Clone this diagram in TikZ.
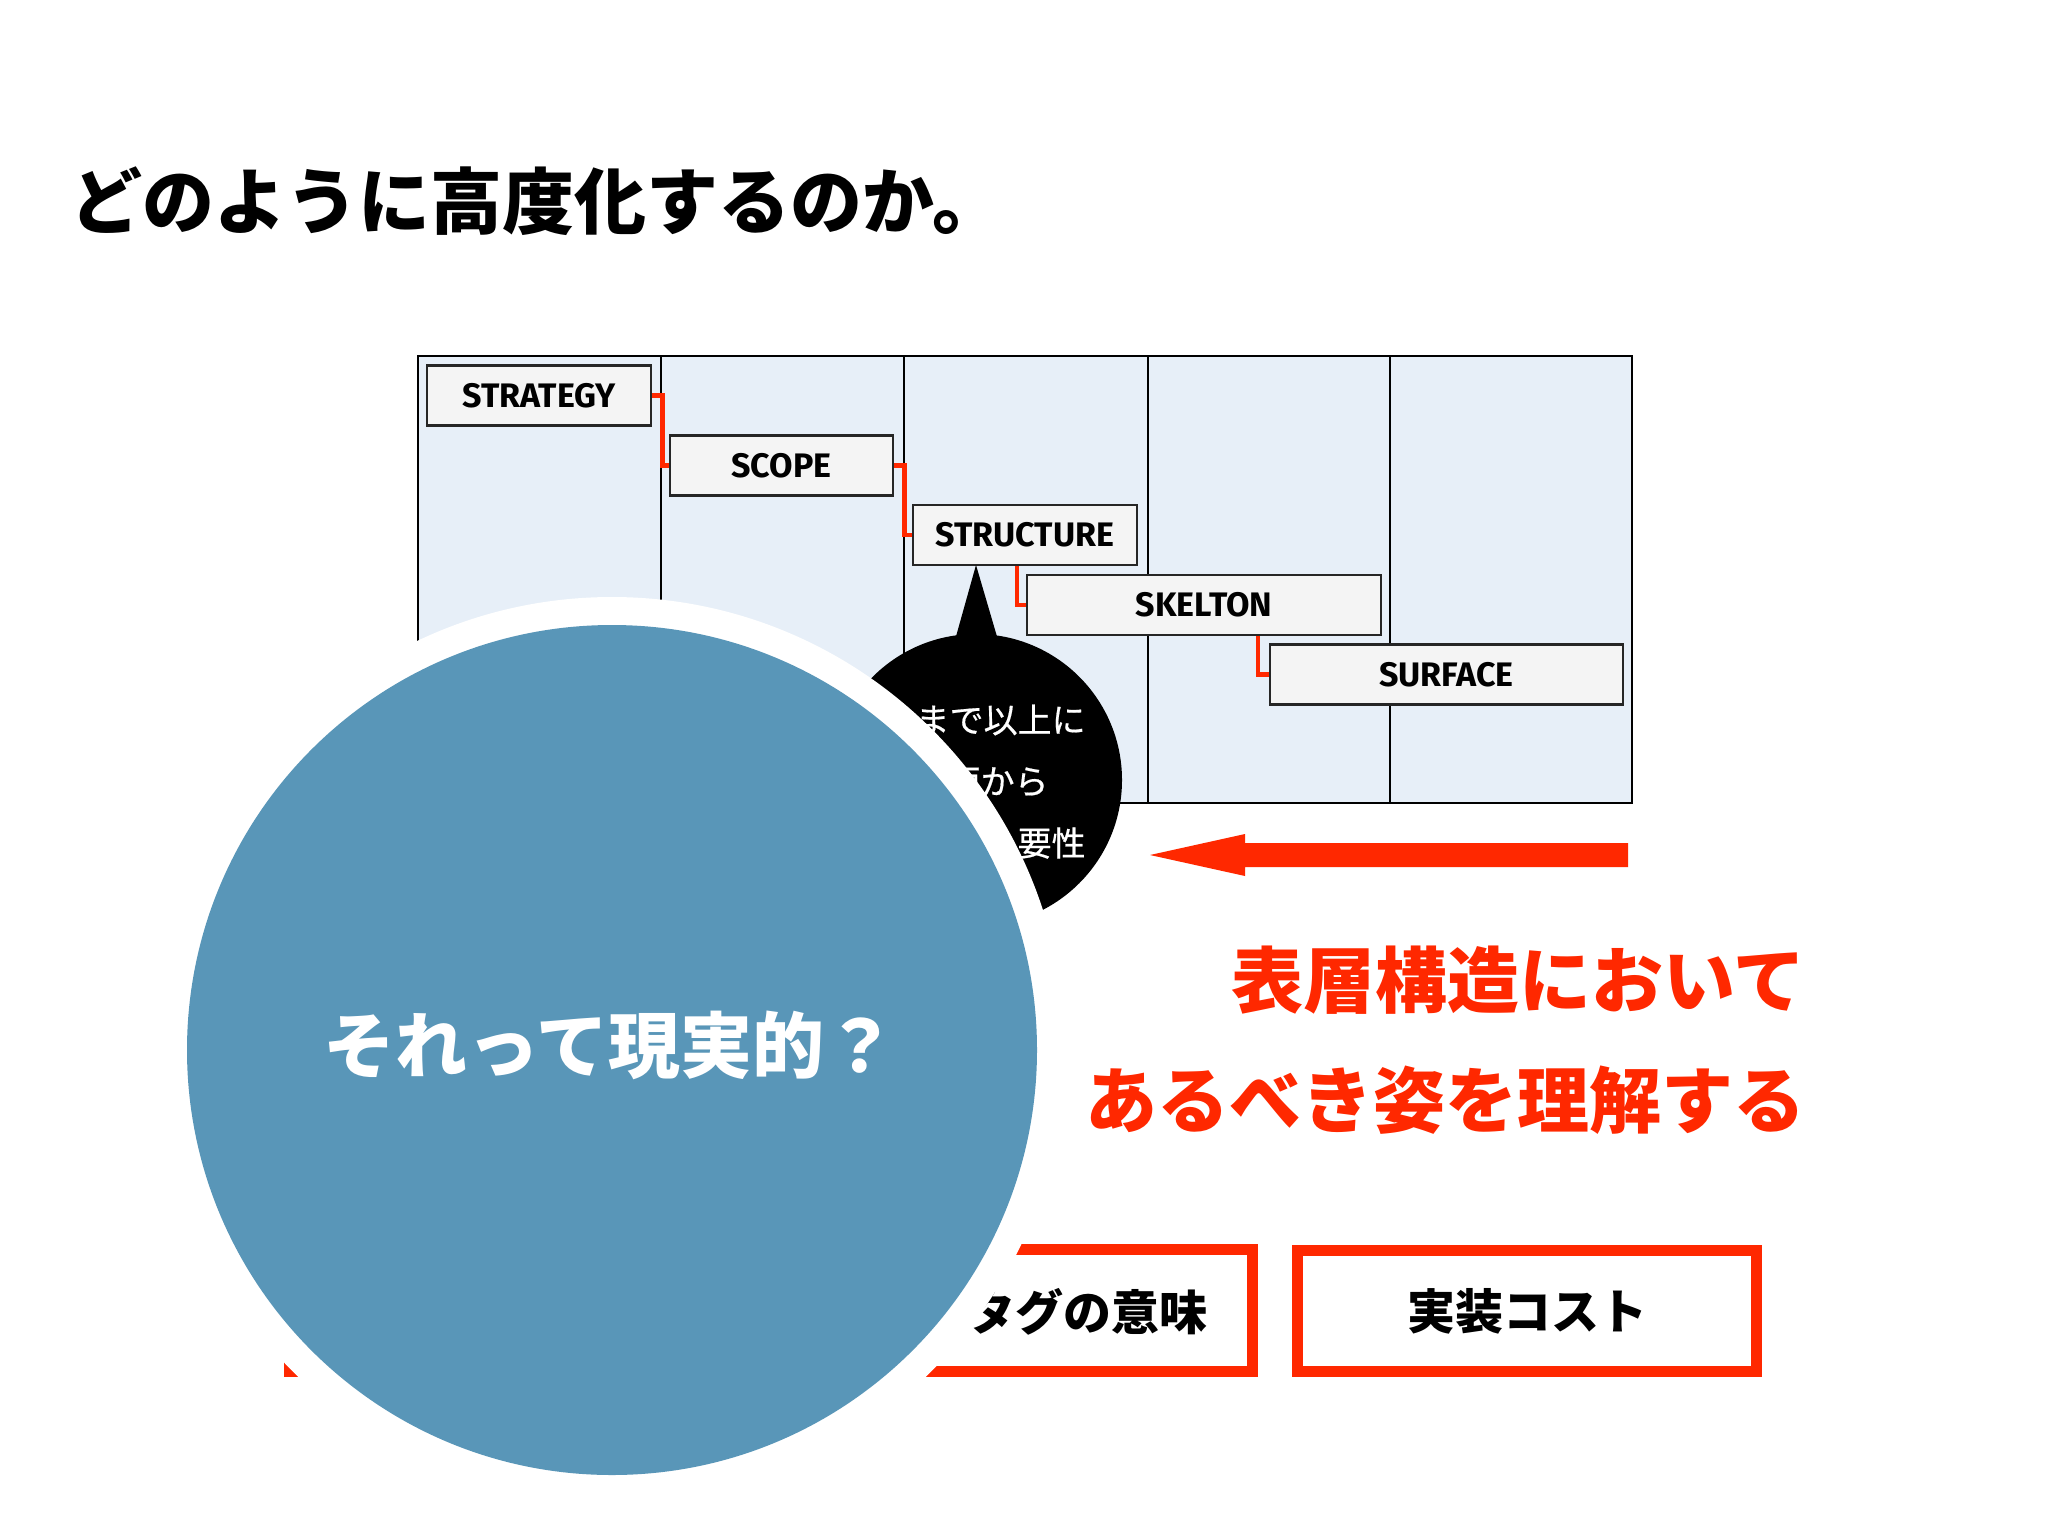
\documentclass[tikz,border=0pt]{standalone}
\usepackage{fontspec}
\newfontfamily\jp{Noto Sans CJK JP}
\newfontfamily\jpmed{Noto Sans CJK JP}[FakeBold=0.5]
\newfontfamily\din{Fira Sans}
\usetikzlibrary{calc}
\definecolor{panelblue}{RGB}{231,239,248}
\definecolor{boxgray}{RGB}{244,244,244}
\definecolor{accentred}{RGB}{255,40,0}
\definecolor{qblue}{RGB}{89,150,184}
\begin{document}
\begin{tikzpicture}[x=0.5pt,y=-0.5pt,
  layerbox/.style={draw=black!85,line width=1.2pt,fill=boxgray,inner sep=0pt,
    minimum height=30pt,font=\din\bfseries\fontsize{17}{20}\selectfont},
  conn/.style={draw=accentred,line width=2.3pt},
  bubbletext/.style={text=white,inner sep=0pt,anchor=east,font=\jpmed\fontsize{17}{20}\selectfont},
  redtext/.style={text=accentred,inner sep=0pt,anchor=east,font=\jp\bfseries\fontsize{36}{40}\selectfont},
  redbox/.style={draw=accentred,line width=5.5pt,fill=white,inner sep=0pt},
  boxtext/.style={text=black,inner sep=0pt,font=\jp\bfseries\fontsize{24}{28}\selectfont}]
\useasboundingbox[fill=white] (0,0) rectangle (2048,1536);

% title
\node[anchor=west,inner sep=0pt,font=\jp\bfseries\fontsize{36}{40}\selectfont] (title) at (70,201) {どのように高度化するのか。};

% panel
\fill[panelblue] (418,356) rectangle (1632,803);
\foreach \x in {661,904,1148,1390} \draw[line width=0.8pt] (\x,356) -- (\x,803);
\draw[line width=1pt] (418,356) rectangle (1632,803);

% layer boxes
\node[layerbox,minimum width=112pt] (strategy) at (539,395.5) {STRATEGY};
\node[layerbox,minimum width=111.5pt] (scope) at (781.5,465.5) {SCOPE};
\node[layerbox,minimum width=112pt] (structure) at (1025,535) {STRUCTURE};
\node[layerbox,minimum width=177pt] (skelton) at (1204,605) {SKELTON};
\node[layerbox,minimum width=176.5pt] (surface) at (1446.5,674.5) {SURFACE};

% connectors
\draw[conn] (strategy.east) -- ++(10,0) |- (scope.west);
\draw[conn] (scope.east) -- ++(10,0) |- (structure.west);
\draw[conn] ($(structure.south -| skelton.west)+(-9,0)$) |- (skelton.west);
\draw[conn] ($(skelton.south -| surface.west)+(-11,0)$) |- (surface.west);

% speech bubble
\coordinate (tip) at (976,565);
\node[circle,fill=black,minimum size=146pt,inner sep=0pt] (bubble) at (976,780) {};
\fill[black] (tip) -- ($(tip)+(-21,75)$) -- ($(tip)+(22,75)$) -- cycle;
\node[bubbletext] (b1) at (1086,720) {まで以上に};
\node[bubbletext] (b2) at (1049,782) {面から};
\node[bubbletext] (b3) at (1086,843) {要性};

% red arrow
\coordinate (arrowtail) at (1628,855);
\coordinate (arrowtip) at (1150,855);
\fill[accentred] (arrowtip) -- ($(arrowtip)+(95,-21)$) -- ($(arrowtip)+(95,-12)$)
  -- ($(arrowtail)+(0,-12)$) -- ($(arrowtail)+(0,12)$) -- ($(arrowtip)+(95,12)$)
  -- ($(arrowtip)+(95,21)$) -- cycle;

% red statement
\node[redtext] (line1) at (1806,980) {表層構造において};
\node[redtext] (line2) at (1806,1100) {あるべき姿を理解する};

% bottom boxes
\node[redbox,minimum width=481.5pt,minimum height=61pt] (tagbox) at (771,1310.5) {};
\node[boxtext,anchor=east] (tagtext) at (1208,1312) {タグの意味};
\node[redbox,minimum width=229.5pt,minimum height=60.5pt,boxtext] (costbox) at (1527,1311) {実装コスト};

% overlay circle
\fill[white] (612,1050) circle[radius=226.5pt];
\node[circle,fill=qblue,minimum size=425pt,inner sep=0pt] (question) at (612,1050) {};
\node[text=white,inner sep=0pt,font=\jp\bfseries\fontsize{36}{40}\selectfont] (qtext) at (610,1045) {それって現実的？};
\end{tikzpicture}
\end{document}
